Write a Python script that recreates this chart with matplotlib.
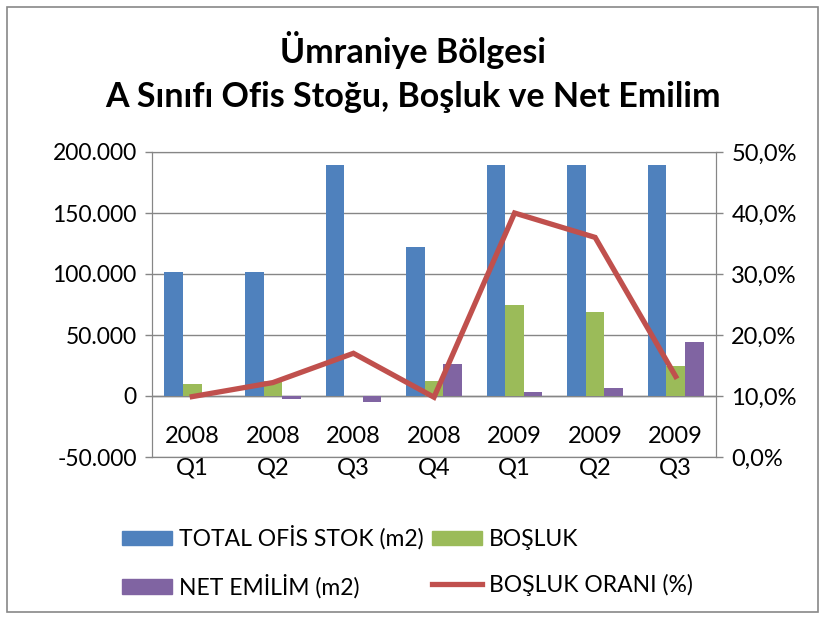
import matplotlib
matplotlib.use("Agg")
import matplotlib.pyplot as plt
from matplotlib.patches import Rectangle, Patch
from matplotlib.lines import Line2D
import matplotlib.ticker as mticker
import numpy as np

plt.rcParams['font.family'] = ['Lato', 'DejaVu Sans']

years = ["2008", "2008", "2008", "2008", "2009", "2009", "2009"]
quarters = ["Q1", "Q2", "Q3", "Q4", "Q1", "Q2", "Q3"]
total_stock = [102000, 102000, 189000, 122500, 189000, 189000, 189000]
vacancy = [10000, 12000, 0, 12000, 75000, 69000, 25000]
net_absorption = [0, -2500, -5000, 26000, 3600, 6900, 44000]
vacancy_rate = [9.9, 12.2, 17.0, 9.8, 40.0, 36.0, 13.2]

left_ticks = [-50000, 0, 50000, 100000, 150000, 200000]
right_ticks = [0, 10, 20, 30, 40, 50]

c_blue = "#4F81BD"
c_green = "#9BBB59"
c_purple = "#8064A2"
c_red = "#C0504D"

W, H = 826, 619
fig = plt.figure(figsize=(W / 100, H / 100), dpi=100)
fig.patches.append(Rectangle((7 / W, 1 - 612 / H), (818 - 7) / W, (612 - 7) / H,
                             transform=fig.transFigure, fill=False,
                             edgecolor="#888888", linewidth=1.2))

ax = fig.add_axes([152 / W, 1 - 457 / H, (716 - 152) / W, (457 - 152) / H])
x = np.arange(len(years))
bw = 0.23
ax.bar(x - bw, total_stock, bw, color=c_blue, zorder=3)
ax.bar(x, vacancy, bw, color=c_green, zorder=3)
ax.bar(x + bw, net_absorption, bw, color=c_purple, zorder=3)

ax.set_xlim(-0.5, len(years) - 0.5)
ax.set_ylim(-50000, 200000)
ax.set_yticks(left_ticks)
ax.yaxis.set_major_formatter(mticker.FuncFormatter(
    lambda v, p: "0" if v == 0 else f"{v:,.0f}".replace(",", ".")))
ax.grid(axis="y", color="#868686", linewidth=1.0, zorder=0)
ax.set_xticks([])
ax.axhline(0, color="#868686", linewidth=1.0, zorder=2)
for s in ax.spines.values():
    s.set_color("#868686")
ax.tick_params(axis="y", labelsize=16.5, colors="#868686", labelcolor="black",
               length=5, width=1, pad=6)

for i in range(len(years)):
    ax.text(x[i], 0.068, years[i], transform=ax.get_xaxis_transform(),
            ha="center", va="center", fontsize=17)
    ax.text(x[i], -0.035, quarters[i], transform=ax.get_xaxis_transform(),
            ha="center", va="center", fontsize=17)

ax2 = ax.twinx()
ax2.plot(x, vacancy_rate, color=c_red, linewidth=3.8, zorder=4,
         solid_joinstyle="miter")
ax2.set_ylim(0, 50)
ax2.set_yticks(right_ticks)
ax2.yaxis.set_major_formatter(mticker.FuncFormatter(
    lambda v, p: f"{v:.1f}%".replace(".", ",")))
ax2.tick_params(axis="y", labelsize=17, colors="#868686", labelcolor="black",
                length=5, width=1, pad=6)
for s in ax2.spines.values():
    s.set_color("#868686")

fig.text(0.5, 1 - 50 / H, "Ümraniye Bölgesi", ha="center", va="center",
         fontsize=24.5, fontweight="bold")
fig.text(0.5, 1 - 97 / H, "A Sınıfı Ofis Stoğu, Boşluk ve Net Emilim",
         ha="center", va="center", fontsize=24.5, fontweight="bold")

handles = [Patch(color=c_blue), Patch(color=c_green),
           Patch(color=c_purple), Line2D([], [], color=c_red, linewidth=3.8)]
labels = ["TOTAL OFİS STOK (m2)", "BOŞLUK", "NET EMİLİM (m2)", "BOŞLUK ORANI (%)"]
leg = fig.legend([handles[0], handles[2], handles[1], handles[3]],
                 [labels[0], labels[2], labels[1], labels[3]],
                 ncol=2, loc="center", bbox_to_anchor=(0.493, 1 - 562 / H),
                 frameon=False, fontsize=16.5, handlelength=2.2, handleheight=0.6,
                 columnspacing=0.35, labelspacing=1.05, handletextpad=0.3)

fig.savefig("out.png", dpi=100)
